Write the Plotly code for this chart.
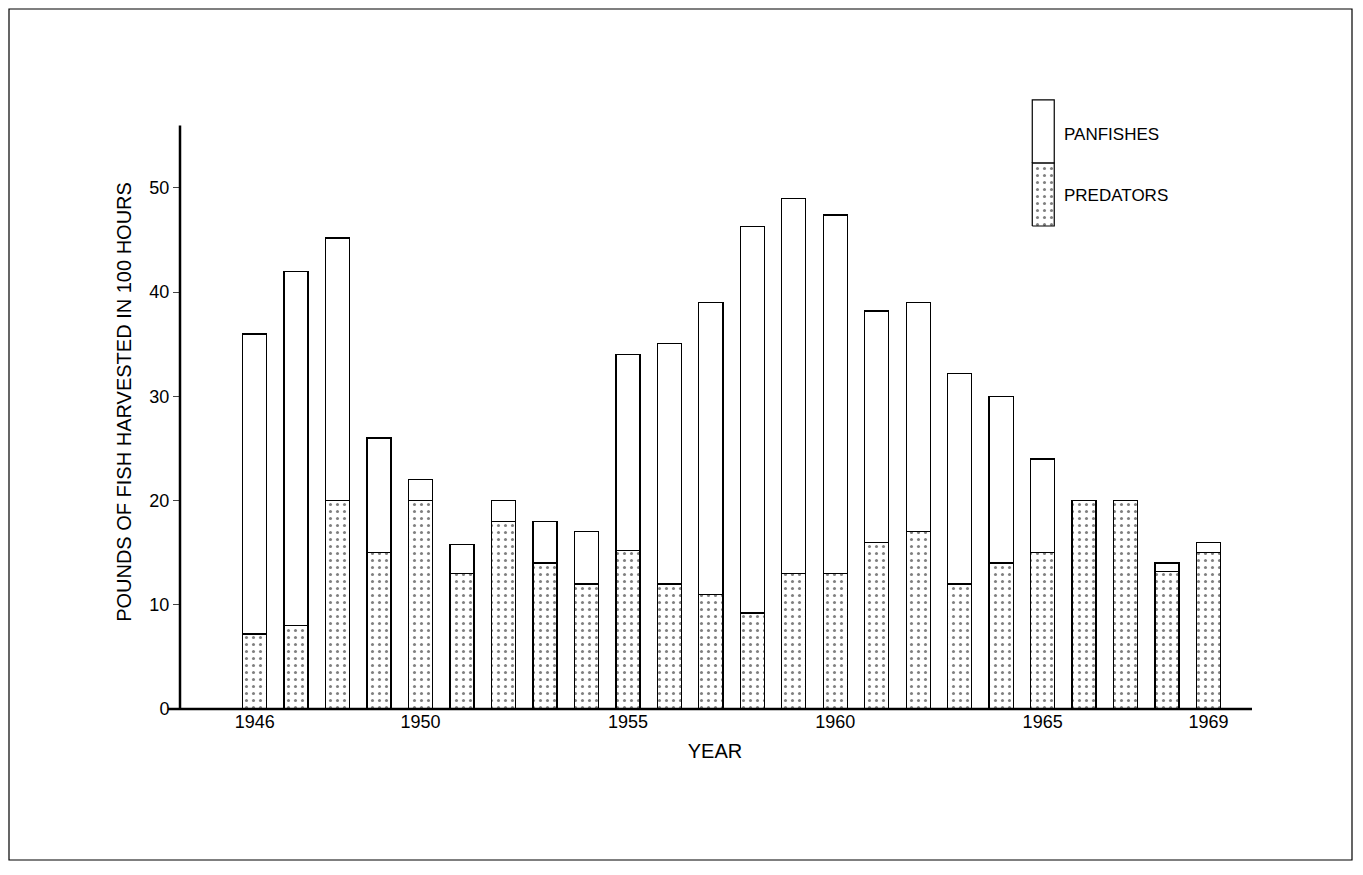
import plotly.graph_objects as go

years = list(range(1946, 1970))
totals = [36, 42, 45.2, 26, 22, 15.8, 20, 18, 17, 34, 35.1, 39, 46.3, 49, 47.4, 38.2, 39, 32.2, 30, 24, 20, 20, 14, 16]
predators = [7.2, 8, 20, 15, 20, 13, 18, 14, 12, 15.2, 12, 11, 9.2, 13, 13, 16, 17, 12, 14, 15, 20, 20, 13.2, 15]
panfishes = [t - p for t, p in zip(totals, predators)]
xticks = [1946, 1950, 1955, 1960, 1965, 1969]
yticks = [0, 10, 20, 30, 40, 50]

font = "Liberation Sans"
pat = dict(shape=".", fgcolor="black", size=7, solidity=0.15)
fig = go.Figure()
fig.add_bar(x=years, y=predators, name="PREDATORS", width=0.58,
            marker=dict(color="white", line=dict(color="black", width=1.3), pattern=pat))
fig.add_bar(x=years, y=panfishes, name="PANFISHES", width=0.58,
            marker=dict(color="white", line=dict(color="black", width=1.3)))

# legend swatches (data coordinates)
lx0, lx1 = 1964.75, 1965.28
fig.add_scatter(x=[lx0, lx1, lx1, lx0, lx0], y=[46.35, 46.35, 52.4, 52.4, 46.35], mode="lines",
                fill="toself", fillcolor="white", fillpattern=pat, line=dict(color="black", width=1.2),
                hoverinfo="skip")
fig.add_scatter(x=[lx0, lx1, lx1, lx0, lx0], y=[52.4, 52.4, 58.45, 58.45, 52.4], mode="lines",
                fill="toself", fillcolor="white", line=dict(color="black", width=1.2), hoverinfo="skip")
fig.add_annotation(x=1965.47, y=55.1, text="PANFISHES", showarrow=False, xanchor="left",
                   font=dict(size=17, color="black", family=font))
fig.add_annotation(x=1965.47, y=49.3, text="PREDATORS", showarrow=False, xanchor="left",
                   font=dict(size=17, color="black", family=font))

def px(x): return (x - 180) / 1070
def py(y): return (709 - y) / 614

fig.add_shape(type="rect", xref="paper", yref="paper", x0=px(9), x1=px(1352), y0=py(860), y1=py(9),
              line=dict(color="black", width=1.2))
fig.add_shape(type="line", xref="paper", yref="paper", x0=px(168), x1=px(1252), y0=0, y1=0,
              line=dict(color="black", width=2.5))
fig.add_shape(type="line", xref="paper", yref="y", x0=0, x1=0, y0=0, y1=56,
              line=dict(color="black", width=2.5))

fig.update_layout(
    width=1347, height=859, barmode="stack", showlegend=False,
    plot_bgcolor="white", paper_bgcolor="white",
    margin=dict(l=172, r=105, t=87, b=158),
    font=dict(family=font, size=17, color="black"),
    xaxis=dict(range=[1944.2, 1970], tickvals=xticks, ticks="", showgrid=False, zeroline=False,
               showline=False, title=dict(text="YEAR", standoff=12), tickfont=dict(size=18)),
    yaxis=dict(range=[0, 58.92], tickvals=yticks, ticks="outside", ticklen=6, showgrid=False, zeroline=False,
               showline=False,
               title=dict(text="POUNDS OF FISH HARVESTED IN 100 HOURS", standoff=12), tickfont=dict(size=18)),
)
fig.write_html("out.html")
